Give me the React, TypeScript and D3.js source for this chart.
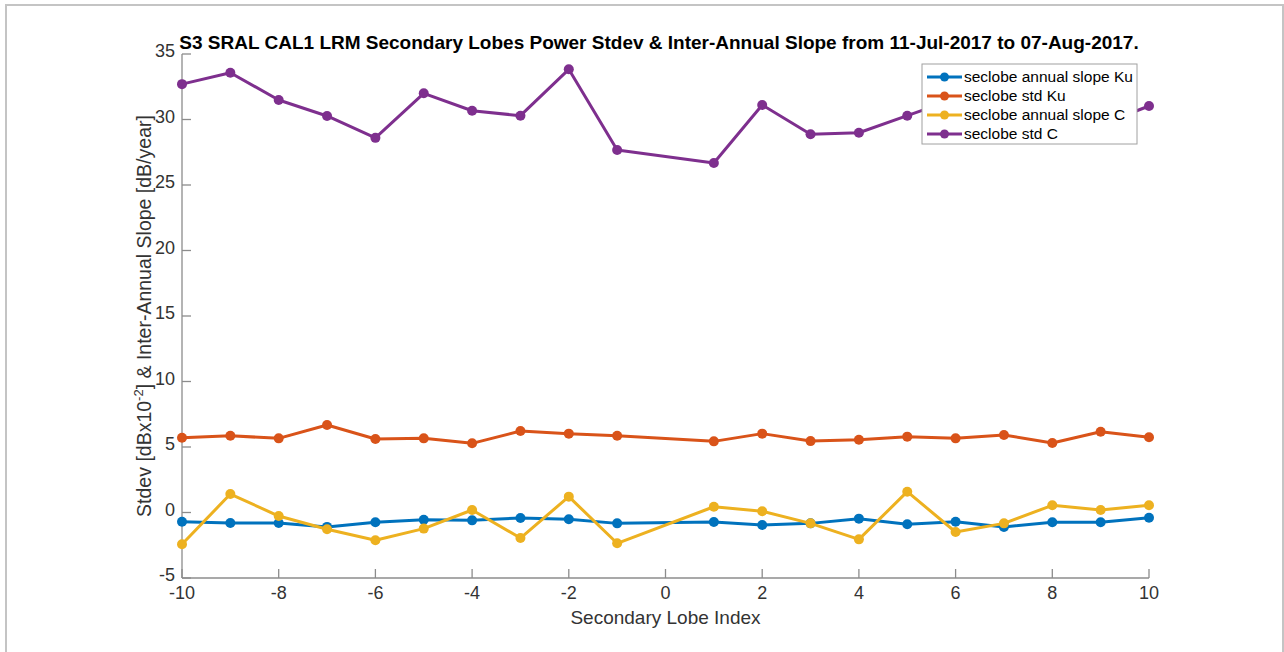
import React from 'react';
import * as d3 from 'd3';

// lobe indices (0 = main lobe, not plotted)
const lobeIndex = [-10, -9, -8, -7, -6, -5, -4, -3, -2, -1, 1, 2, 3, 4, 5, 6, 7, 8, 9, 10];

const slopeKu = [-0.7, -0.8, -0.8, -1.1, -0.75, -0.55, -0.6, -0.42, -0.52, -0.83, -0.73, -0.95, -0.83, -0.47, -0.9, -0.7, -1.1, -0.75, -0.75, -0.4];
const stdKu = [5.7, 5.86, 5.66, 6.68, 5.61, 5.66, 5.28, 6.22, 6.02, 5.86, 5.43, 6.02, 5.45, 5.56, 5.79, 5.66, 5.92, 5.31, 6.17, 5.74];
const slopeC = [-2.43, 1.41, -0.27, -1.28, -2.12, -1.23, 0.19, -1.95, 1.21, -2.35, 0.44, 0.09, -0.83, -2.05, 1.59, -1.49, -0.83, 0.55, 0.19, 0.55];
const stdC = [32.7, 33.57, 31.49, 30.27, 28.6, 32.0, 30.67, 30.29, 33.83, 27.67, 26.68, 31.11, 28.87, 28.99, 30.29, 31.6, 30.8, 30.2, 29.6, 31.03];

const seriesNames = ['seclobe annual slope Ku', 'seclobe std Ku', 'seclobe annual slope C', 'seclobe std C'];
const seriesColors = ['#0072BD', '#D95319', '#EDB120', '#7E2F8E'];
const seriesValues = [slopeKu, stdKu, slopeC, stdC];

const xTicks = [-10, -8, -6, -4, -2, 0, 2, 4, 6, 8, 10];
const yTicks = [-5, 0, 5, 10, 15, 20, 25, 30, 35];

const title = 'S3 SRAL CAL1 LRM Secondary Lobes Power Stdev & Inter-Annual Slope from 11-Jul-2017 to 07-Aug-2017.';

const W = 1284;
const H = 652;
const left = 182;
const right = 1149;
const top = 54;
const bottom = 578;
const font = '"Liberation Sans", Arial, Helvetica, sans-serif';
const axisColor = '#8c8c8c';
const textColor = '#333';

export default function App() {
  const x = d3.scaleLinear().domain([-10, 10]).range([left, right]);
  const y = d3.scaleLinear().domain([-5, 35]).range([bottom, top]);
  const line = d3
    .line<number>()
    .x((_, i) => x(lobeIndex[i]))
    .y((d) => y(d));

  return (
    <svg
      width={W}
      height={H}
      style={{ position: 'absolute', left: 0, top: 0, background: '#fff' }}
      fontFamily={font}
    >
      {/* outer frame */}
      <path d={`M6,${H} V5 H1283 V${H}`} fill="none" stroke="#c4c4c4" strokeWidth={2} />

      {/* axes */}
      <line x1={left} x2={right} y1={bottom} y2={bottom} stroke={axisColor} strokeWidth={1.3} />
      <line x1={left} x2={left} y1={top} y2={bottom} stroke={axisColor} strokeWidth={1.3} />
      {xTicks.map((t) => (
        <g key={'x' + t}>
          <line x1={x(t)} x2={x(t)} y1={bottom} y2={bottom - 9} stroke={axisColor} strokeWidth={1.3} />
          <text x={x(t)} y={bottom + 21} textAnchor="middle" fontSize={18} fill={textColor}>
            {t}
          </text>
        </g>
      ))}
      {yTicks.map((t) => (
        <g key={'y' + t}>
          <line x1={left} x2={left + 9} y1={y(t)} y2={y(t)} stroke={axisColor} strokeWidth={1.3} />
          <text x={left - 7} y={y(t) + 3} textAnchor="end" fontSize={18} fill={textColor}>
            {t}
          </text>
        </g>
      ))}

      {/* series */}
      {seriesValues.map((vals, s) => (
        <g key={seriesNames[s]}>
          <path d={line(vals) || ''} fill="none" stroke={seriesColors[s]} strokeWidth={3} strokeLinejoin="round" />
          {vals.map((v, i) => (
            <circle key={i} cx={x(lobeIndex[i])} cy={y(v)} r={5} fill={seriesColors[s]} />
          ))}
        </g>
      ))}

      {/* title and labels */}
      <text x={659} y={49} textAnchor="middle" fontSize={19} fontWeight="bold" fill="#000">
        {title}
      </text>
      <text x={(left + right) / 2} y={624} textAnchor="middle" fontSize={19} fill={textColor}>
        Secondary Lobe Index
      </text>
      <text
        transform={`translate(151, ${(top + bottom) / 2}) rotate(-90)`}
        textAnchor="middle"
        fontSize={19.5}
        fill={textColor}
      >
        Stdev [dBx10
        <tspan dy={-8} fontSize={13}>-2</tspan>
        <tspan dy={8}>] &amp; Inter-Annual Slope [dB/year]</tspan>
      </text>

      {/* legend */}
      <g>
        <rect x={922} y={64} width={215} height={80} fill="#fff" stroke="#a0a0a0" strokeWidth={1} />
        {seriesNames.map((n, s) => {
          const ly = 77 + s * 19;
          return (
            <g key={n}>
              <line x1={927} x2={962} y1={ly} y2={ly} stroke={seriesColors[s]} strokeWidth={3} />
              <circle cx={944.5} cy={ly} r={4.5} fill={seriesColors[s]} />
              <text x={964} y={ly + 5} fontSize={15.5} fill="#000">
                {n}
              </text>
            </g>
          );
        })}
      </g>
    </svg>
  );
}
